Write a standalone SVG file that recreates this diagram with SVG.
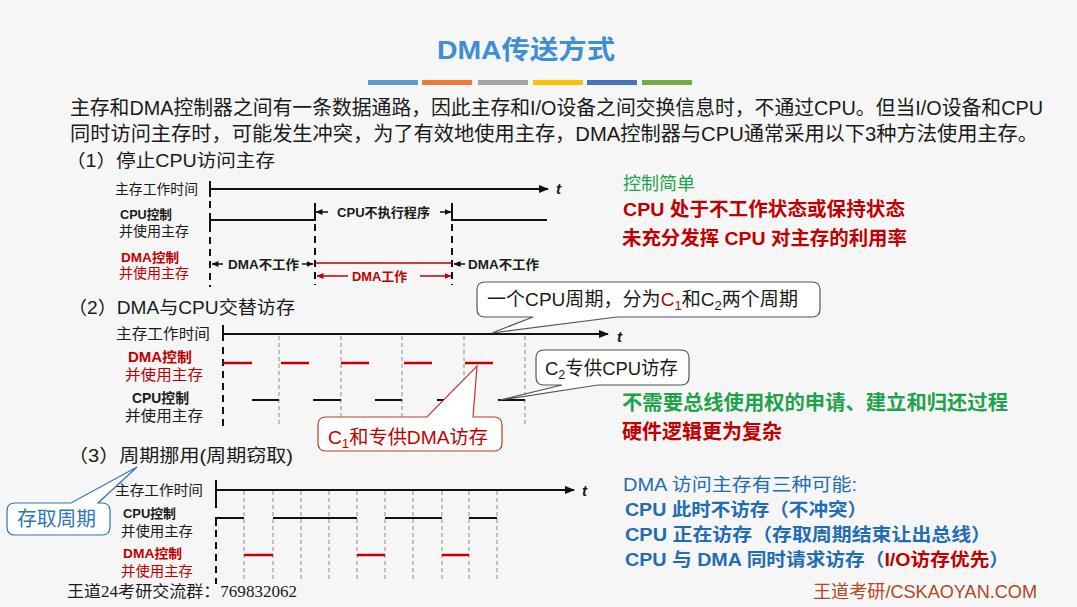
<svg xmlns="http://www.w3.org/2000/svg" width="1077" height="607" viewBox="0 0 1077 607">
<defs>
<style>
text{font-family:"Liberation Sans","Noto Sans CJK SC",sans-serif;fill:#1a1a1a}
.p{font-size:20px}
.h{font-size:18px}
.lab{font-size:14px}
.b{font-weight:bold}
.n{font-weight:normal}
.red{fill:#c00000}
.grn{fill:#1ea34a}
.blu{fill:#1f6db5}
.t{font-family:"Liberation Sans",sans-serif;font-weight:bold;font-style:italic;font-size:15px}
.ax{stroke:#111;stroke-width:2;fill:none}
.cpu{stroke:#111;stroke-width:2;fill:none}
.dma{stroke:#c00000;stroke-width:2.5;fill:none}
.dk{stroke:#111;stroke-width:2;stroke-dasharray:7 5;fill:none}
.gd{stroke:#8a8a8a;stroke-width:1;stroke-dasharray:4 3;fill:none}
.sa{stroke:#111;stroke-width:1.5;fill:none}
.sr{stroke:#c00000;stroke-width:1.5;fill:none}
.co{fill:#ffffff;stroke:#555;stroke-width:1.2}
</style>
<marker id="ah" markerUnits="userSpaceOnUse" markerWidth="10" markerHeight="8" refX="9" refY="4" orient="auto"><path d="M0,0 L10,4 L0,8 Z" fill="#111"/></marker>
<marker id="sh" markerUnits="userSpaceOnUse" markerWidth="7" markerHeight="6" refX="6.5" refY="3" orient="auto"><path d="M0,0 L7,3 L0,6 Z" fill="#111"/></marker>
<marker id="shr" markerUnits="userSpaceOnUse" markerWidth="7" markerHeight="6" refX="6.5" refY="3" orient="auto"><path d="M0,0 L7,3 L0,6 Z" fill="#c00000"/></marker>
</defs>
<rect x="0" y="0" width="1077" height="607" fill="#f6f6f6"/>

<g id="title">
<text x="437" y="59" font-size="26" font-weight="bold" style="fill:#3f8ed6" textLength="178" lengthAdjust="spacingAndGlyphs">DMA传送方式</text>
<rect x="368" y="80" width="50" height="5" fill="#5b9bd5"/>
<rect x="422" y="80" width="50" height="5" fill="#ed7d31"/>
<rect x="478" y="80" width="50" height="5" fill="#a5a5a5"/>
<rect x="533" y="80" width="50" height="5" fill="#ffc000"/>
<rect x="587" y="80" width="50" height="5" fill="#4472c4"/>
<rect x="642" y="80" width="50" height="5" fill="#70ad47"/>
</g>

<g id="intro">
<text class="p" x="70" y="115" textLength="973" lengthAdjust="spacingAndGlyphs">主存和DMA控制器之间有一条数据通路，因此主存和I/O设备之间交换信息时，不通过CPU。但当I/O设备和CPU</text>
<text class="p" x="70" y="141" textLength="968" lengthAdjust="spacingAndGlyphs">同时访问主存时，可能发生冲突，为了有效地使用主存，DMA控制器与CPU通常采用以下3种方法使用主存。</text>
</g>

<!-- Section 1 -->
<g id="sec1-labels">
<text class="h" x="66" y="167" textLength="209" lengthAdjust="spacingAndGlyphs">（1）停止CPU访问主存</text>
<text class="lab" x="115" y="194" textLength="83" lengthAdjust="spacingAndGlyphs">主存工作时间</text>
<text class="b" font-size="13" x="120" y="219" textLength="52" lengthAdjust="spacingAndGlyphs">CPU控制</text>
<text class="lab" x="119" y="236" textLength="70" lengthAdjust="spacingAndGlyphs">并使用主存</text>
<text class="b red" font-size="13" x="121" y="262" textLength="58" lengthAdjust="spacingAndGlyphs">DMA控制</text>
<text class="lab red" x="119" y="278" textLength="70" lengthAdjust="spacingAndGlyphs">并使用主存</text>
<text class="t" x="556" y="194">t</text>
<text class="b" font-size="13" x="337" y="217" textLength="93" lengthAdjust="spacingAndGlyphs">CPU不执行程序</text>
<text class="b" font-size="13" x="228" y="269" textLength="71" lengthAdjust="spacingAndGlyphs">DMA不工作</text>
<text class="b red" font-size="13" x="352" y="281" textLength="55" lengthAdjust="spacingAndGlyphs">DMA工作</text>
<text class="b" font-size="13" x="468" y="269" textLength="71" lengthAdjust="spacingAndGlyphs">DMA不工作</text>
</g>
<g id="sec1-notes">
<text class="grn" font-size="18" x="623" y="190" textLength="72" lengthAdjust="spacingAndGlyphs">控制简单</text>
<text class="b red" font-size="19" x="623" y="216" textLength="282" lengthAdjust="spacingAndGlyphs">CPU 处于不工作状态或保持状态</text>
<text class="b red" font-size="19" x="622" y="245" textLength="285" lengthAdjust="spacingAndGlyphs">未充分发挥 CPU 对主存的利用率</text>
</g>

<!-- Section 2 -->
<g id="sec2-labels">
<text class="h" x="68" y="314" textLength="227" lengthAdjust="spacingAndGlyphs">（2）DMA与CPU交替访存</text>
<text font-size="15" x="116" y="339" textLength="94" lengthAdjust="spacingAndGlyphs">主存工作时间</text>
<text class="b red" font-size="14" x="128" y="362" textLength="64" lengthAdjust="spacingAndGlyphs">DMA控制</text>
<text class="red" font-size="15" x="125" y="380" textLength="78" lengthAdjust="spacingAndGlyphs">并使用主存</text>
<text class="b" font-size="14" x="132" y="403" textLength="57" lengthAdjust="spacingAndGlyphs">CPU控制</text>
<text font-size="15" x="125" y="421" textLength="78" lengthAdjust="spacingAndGlyphs">并使用主存</text>
<text class="t" x="617" y="342">t</text>
</g>
<g id="sec2-notes">
<text class="b grn" font-size="20" x="622" y="410" textLength="386" lengthAdjust="spacingAndGlyphs">不需要总线使用权的申请、建立和归还过程</text>
<text class="b red" font-size="20" x="622" y="439" textLength="160" lengthAdjust="spacingAndGlyphs">硬件逻辑更为复杂</text>
</g>

<!-- Section 3 -->
<g id="sec3-labels">
<text class="h" x="68" y="462" textLength="225" lengthAdjust="spacingAndGlyphs">（3）周期挪用(周期窃取)</text>
<text class="lab" x="115" y="495" textLength="88" lengthAdjust="spacingAndGlyphs">主存工作时间</text>
<text class="b" font-size="13" x="123" y="518" textLength="53" lengthAdjust="spacingAndGlyphs">CPU控制</text>
<text class="lab" x="121" y="536" textLength="72" lengthAdjust="spacingAndGlyphs">并使用主存</text>
<text class="b red" font-size="13" x="123" y="558" textLength="59" lengthAdjust="spacingAndGlyphs">DMA控制</text>
<text class="lab red" x="121" y="576" textLength="72" lengthAdjust="spacingAndGlyphs">并使用主存</text>
<text class="t" x="582" y="496">t</text>
</g>
<g id="sec3-notes">
<text class="blu" font-size="18" x="623" y="491" textLength="234" lengthAdjust="spacingAndGlyphs">DMA 访问主存有三种可能:</text>
<text class="b blu" font-size="18" x="625" y="516" textLength="242" lengthAdjust="spacingAndGlyphs">CPU 此时不访存（不冲突）</text>
<text class="b blu" font-size="18" x="625" y="541" textLength="366" lengthAdjust="spacingAndGlyphs">CPU 正在访存（存取周期结束让出总线）</text>
<text class="b blu" font-size="18" x="625" y="566" textLength="384" lengthAdjust="spacingAndGlyphs">CPU 与 DMA 同时请求访存（<tspan class="red">I/O访存优先</tspan>）</text>
</g>

<g id="footer">
<text x="67" y="597" font-size="16" style="font-family:'Liberation Serif','Noto Sans CJK SC',serif" textLength="230" lengthAdjust="spacingAndGlyphs">王道24考研交流群：769832062</text>
<text x="813" y="598" font-size="18" style="fill:#b5461d" textLength="224" lengthAdjust="spacingAndGlyphs">王道考研/CSKAOYAN.COM</text>
</g>

<g id="connectors">
<!-- section 1 -->
<line class="ax" x1="210" y1="189" x2="548" y2="189" marker-end="url(#ah)"/>
<line class="ax" x1="210" y1="181" x2="210" y2="197"/>
<line class="dk" x1="210" y1="201" x2="210" y2="287"/>
<polyline class="cpu" points="210,226 210,220 315,220 315,203"/>
<polyline class="cpu" points="452,203 452,220 547,220"/>
<line class="dk" x1="315" y1="224" x2="315" y2="285"/>
<line class="dk" x1="452" y1="224" x2="452" y2="285"/>
<line class="sa" x1="328" y1="212" x2="316" y2="212" marker-end="url(#sh)"/>
<line class="sa" x1="440" y1="212" x2="451" y2="212" marker-end="url(#sh)"/>
<line class="sa" x1="223" y1="264" x2="212" y2="264" marker-end="url(#sh)"/>
<line class="sa" x1="302" y1="264" x2="313" y2="264" marker-end="url(#sh)"/>
<line class="sa" x1="465" y1="264" x2="454" y2="264" marker-end="url(#sh)"/>
<line class="sr" x1="315" y1="263" x2="452" y2="263"/>
<line class="sr" x1="348" y1="276" x2="317" y2="276" marker-end="url(#shr)"/>
<line class="sr" x1="420" y1="276" x2="451" y2="276" marker-end="url(#shr)"/>
<!-- section 2 -->
<line class="ax" x1="223" y1="334" x2="608" y2="334" marker-end="url(#ah)"/>
<line class="ax" x1="223" y1="325" x2="223" y2="341"/>
<line class="dk" x1="223" y1="347" x2="223" y2="428"/>
<g class="gd">
<line x1="279" y1="336" x2="279" y2="426"/>
<line x1="341" y1="336" x2="341" y2="426"/>
<line x1="402" y1="336" x2="402" y2="426"/>
<line x1="464" y1="336" x2="464" y2="426"/>
<line x1="525" y1="336" x2="525" y2="426"/>
</g>
<g class="dma">
<line x1="223" y1="363" x2="252" y2="363"/>
<line x1="281" y1="363" x2="309" y2="363"/>
<line x1="341" y1="363" x2="369" y2="363"/>
<line x1="404" y1="363" x2="432" y2="363"/>
<line x1="465" y1="363" x2="493" y2="363"/>
</g>
<g class="cpu">
<line x1="252" y1="400" x2="279" y2="400"/>
<line x1="313" y1="400" x2="341" y2="400"/>
<line x1="375" y1="400" x2="402" y2="400"/>
<line x1="437" y1="400" x2="464" y2="400"/>
<line x1="498" y1="400" x2="525" y2="400"/>
</g>
<!-- section 3 -->
<line class="ax" x1="216" y1="490" x2="574" y2="490" marker-end="url(#ah)"/>
<line class="ax" x1="216" y1="480" x2="216" y2="508"/>
<line class="dk" x1="216" y1="530" x2="216" y2="584"/>
<g class="gd">
<line x1="244" y1="491" x2="244" y2="580"/>
<line x1="273" y1="491" x2="273" y2="580"/>
<line x1="301" y1="491" x2="301" y2="580"/>
<line x1="329" y1="491" x2="329" y2="580"/>
<line x1="357" y1="491" x2="357" y2="580"/>
<line x1="385" y1="491" x2="385" y2="580"/>
<line x1="413" y1="491" x2="413" y2="580"/>
<line x1="442" y1="491" x2="442" y2="580"/>
<line x1="469" y1="491" x2="469" y2="580"/>
<line x1="497" y1="491" x2="497" y2="580"/>
</g>
<polyline class="cpu" points="216,526 216,518 244,518"/>
<g class="cpu">
<line x1="273" y1="518" x2="357" y2="518"/>
<line x1="385" y1="518" x2="442" y2="518"/>
<line x1="469" y1="518" x2="497" y2="518"/>
</g>
<g class="dma">
<line x1="244" y1="555" x2="273" y2="555"/>
<line x1="357" y1="555" x2="385" y2="555"/>
<line x1="442" y1="555" x2="469" y2="555"/>
</g>
</g>

<g id="callout-cpu-cycle">
<path class="co" d="M485,282 H812 Q820,282 820,290 V309 Q820,317 812,317 H617 L492,333 L533,317 H485 Q477,317 477,309 V290 Q477,282 485,282 Z"/>
<text font-size="19" x="487" y="306" textLength="311" lengthAdjust="spacingAndGlyphs">一个CPU周期，分为<tspan class="red">C</tspan><tspan class="red" font-size="13" dy="4">1</tspan><tspan dy="-4">和C</tspan><tspan font-size="13" dy="4">2</tspan><tspan dy="-4">两个周期</tspan></text>
</g>
<g id="callout-c2">
<path class="co" d="M544,350 H681 Q689,350 689,358 V377 Q689,385 681,385 H598 L500,400 L562,385 H544 Q536,385 536,377 V358 Q536,350 544,350 Z"/>
<text font-size="19" x="545" y="375" textLength="133" lengthAdjust="spacingAndGlyphs">C<tspan font-size="13" dy="4">2</tspan><tspan dy="-4">专供CPU访存</tspan></text>
</g>
<g id="callout-c1">
<path d="M326,417 H427 L477,366 L473,417 H494 Q502,417 502,425 V443 Q502,451 494,451 H326 Q318,451 318,443 V425 Q318,417 326,417 Z" fill="#ffffff" stroke="#c0392b" stroke-width="1.2"/>
<text class="red" font-size="19" x="328" y="444" textLength="160" lengthAdjust="spacingAndGlyphs">C<tspan font-size="13" dy="4">1</tspan><tspan dy="-4">和专供DMA访存</tspan></text>
</g>
<g id="callout-access">
<path d="M15,503 H71 L137,467 L98,503 H102 Q110,503 110,511 V527 Q110,535 102,535 H15 Q7,535 7,527 V511 Q7,503 15,503 Z" fill="#ffffff" stroke="#2e75b6" stroke-width="1.2"/>
<text font-size="20" x="17" y="526" style="fill:#2e75b6" textLength="79" lengthAdjust="spacingAndGlyphs">存取周期</text>
</g>
</svg>
